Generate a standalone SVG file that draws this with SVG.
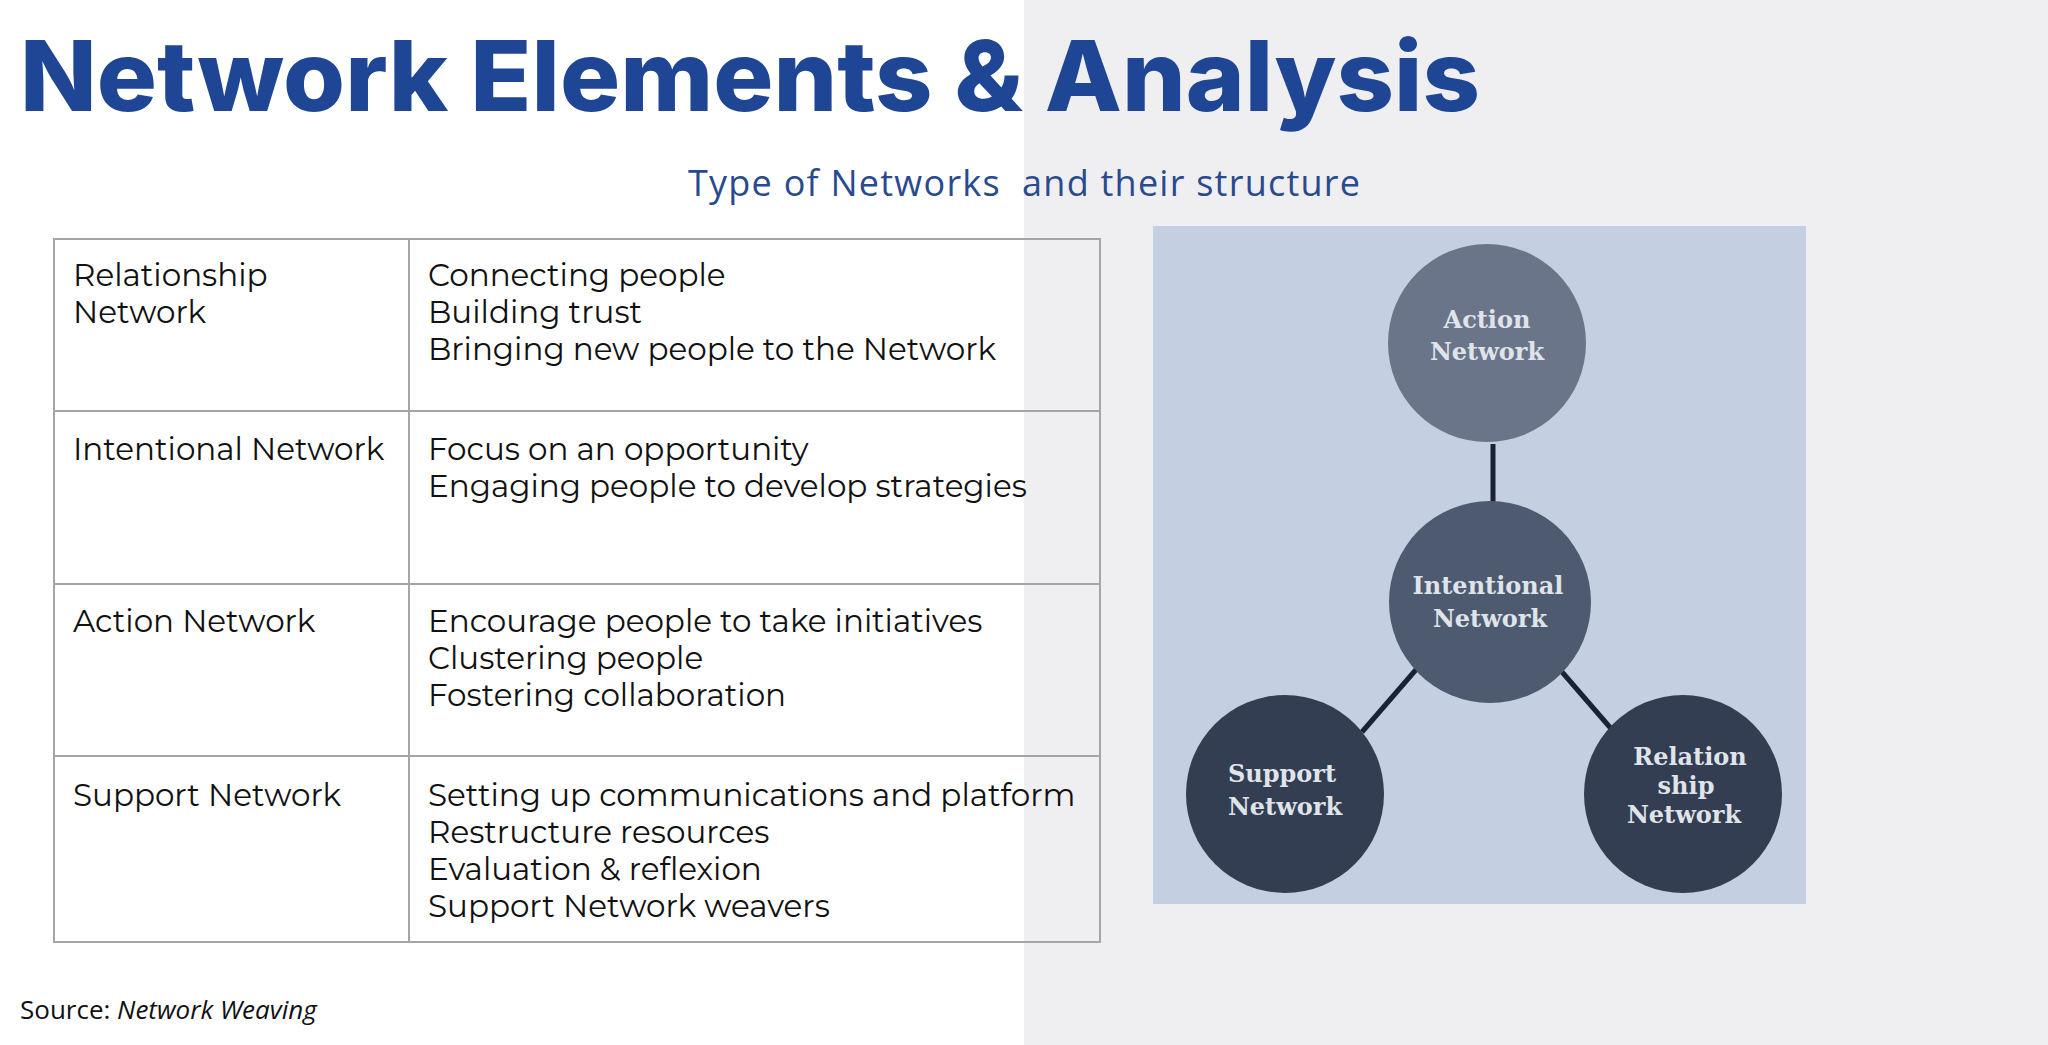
<svg xmlns="http://www.w3.org/2000/svg" width="2048" height="1045" viewBox="0 0 2048 1045">
<style>
.t{font-family:Montserrat,"Open Sans","Liberation Sans",sans-serif;font-size:31px;fill:#111}
.c{font-family:"DejaVu Serif","Liberation Serif",serif;font-size:24px;font-weight:bold;fill:#dfe3ea;text-anchor:middle}
.grid{stroke:#a5a5a8;stroke-width:2;fill:none}
.edge{stroke:#1a2233;stroke-width:5}
</style>
<rect width="2048" height="1045" fill="#ffffff"/>
<rect x="1024" width="1024" height="1045" fill="#efeff2"/>
<text x="20" y="111" font-family="Inter,'Open Sans',sans-serif" font-weight="800" font-size="98" fill="#1f4694" textLength="1460" lengthAdjust="spacingAndGlyphs">Network Elements &amp; Analysis</text>
<text x="688" y="196" font-family="'Open Sans','Liberation Sans',sans-serif" font-size="36" fill="#2a4a8f" textLength="672" xml:space="preserve">Type of Networks  and their structure</text>
<g id="table">
<rect x="54" y="239" width="1046" height="703" fill="#fff" fill-opacity="0.6" class="grid"/>
<line class="grid" x1="409" y1="239" x2="409" y2="942"/>
<line class="grid" x1="54" y1="411" x2="1100" y2="411"/>
<line class="grid" x1="54" y1="584" x2="1100" y2="584"/>
<line class="grid" x1="54" y1="756" x2="1100" y2="756"/>
<text class="t" x="73" y="286">Relationship<tspan x="73" dy="37">Network</tspan></text>
<text class="t" x="428" y="286">Connecting people<tspan x="428" dy="37">Building trust</tspan><tspan x="428" dy="37">Bringing new people to the Network</tspan></text>
<text class="t" x="73" y="460">Intentional Network</text>
<text class="t" x="428" y="460">Focus on an opportunity<tspan x="428" dy="37">Engaging people to develop strategies</tspan></text>
<text class="t" x="73" y="632">Action Network</text>
<text class="t" x="428" y="632">Encourage people to take initiatives<tspan x="428" dy="37">Clustering people</tspan><tspan x="428" dy="37">Fostering collaboration</tspan></text>
<text class="t" x="73" y="806">Support Network</text>
<text class="t" x="428" y="806">Setting up communications and platform<tspan x="428" dy="37">Restructure resources</tspan><tspan x="428" dy="37">Evaluation &amp; reflexion</tspan><tspan x="428" dy="37">Support Network weavers</tspan></text>
</g>
<text x="20" y="1019" font-family="'Open Sans','Liberation Sans',sans-serif" font-size="26" fill="#111">Source:  <tspan font-style="italic">Network Weaving</tspan></text>
<rect x="1153" y="226" width="653" height="678" fill="#c5cfe2"/>
<g id="connectors">
<line class="edge" x1="1493" y1="444" x2="1493" y2="510"/>
<line class="edge" x1="1420" y1="665" x2="1362" y2="732"/>
<line class="edge" x1="1556" y1="665" x2="1614" y2="732"/>
</g>
<g id="action"><circle cx="1487" cy="343" r="99" fill="#6b7589"/><text class="c" x="1487" y="328">Action<tspan x="1487" dy="32">Network</tspan></text></g>
<g id="intentional"><circle cx="1490" cy="602" r="101" fill="#4e5a70"/><text class="c" x="1488" y="594">Intentional<tspan x="1490" dy="33">Network</tspan></text></g>
<g id="support"><circle cx="1285" cy="794" r="99" fill="#343e52"/><text class="c" x="1282" y="782">Support<tspan x="1285" dy="33">Network</tspan></text></g>
<g id="relationship"><circle cx="1683" cy="794" r="99" fill="#343e52"/><text class="c" x="1690" y="765">Relation<tspan x="1686" dy="29">ship</tspan><tspan x="1684" dy="29">Network</tspan></text></g>
</svg>
